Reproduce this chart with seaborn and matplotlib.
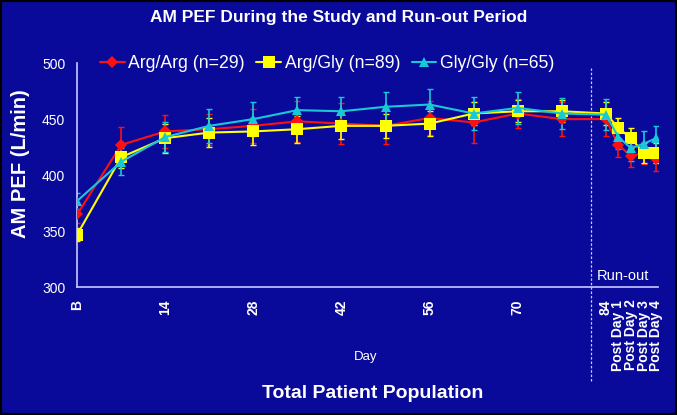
import numpy as np
import pandas as pd
import matplotlib
matplotlib.use("Agg")
import matplotlib.pyplot as plt
import seaborn as sns

# Tage der Messungen (B = Baseline, danach Run-out Tage)
days = [0, 7, 14, 21, 28, 35, 42, 49, 56, 63, 70, 77, 84, 86, 88, 90, 92]
tick_days = [0, 14, 28, 42, 56, 70, 84, 86, 88, 90, 92]
tick_labels = ["B", "14", "28", "42", "56", "70", "84",
               "Post Day 1", "Post Day 2", "Post Day 3", "Post Day 4"]

groups = ["Arg/Arg (n=29)", "Arg/Gly (n=89)", "Gly/Gly (n=65)"]

arg_arg = [365, 427, 439, 441, 444, 448, 446, 444, 451, 447, 455, 450, 450, 427, 417, 420, 414]
arg_gly = [347, 416, 433, 438, 439, 441, 444, 444, 446, 455, 457, 457, 455, 442, 433, 420, 420]
gly_gly = [377, 412, 434, 444, 450, 458, 457, 461, 463, 455, 460, 455, 454, 434, 424, 428, 433]

arg_arg_se = [8, 16, 15, 14, 15, 18, 18, 16, 15, 18, 13, 15, 15, 11, 10, 10, 10]
arg_gly_se = [6, 10, 13, 13, 12, 12, 12, 11, 11, 10, 10, 10, 10, 9, 9, 9, 9]
gly_gly_se = [7, 12, 13, 15, 15, 12, 13, 13, 14, 15, 14, 14, 14, 11, 11, 11, 11]

df = pd.DataFrame({
    "Day": days * 3,
    "PEF": arg_arg + arg_gly + gly_gly,
    "SE": arg_arg_se + arg_gly_se + gly_gly_se,
    "Group": sum([[g] * len(days) for g in groups], []),
})

bg = "#0a0a9a"
farben = {groups[0]: "#ff1010", groups[1]: "#ffff00", groups[2]: "#18c8d8"}
marker = {groups[0]: "D", groups[1]: "s", groups[2]: "^"}
msize = {groups[0]: 6, groups[1]: 8, groups[2]: 7}

sns.set_style("dark")
plt.rcParams["font.family"] = ["Liberation Sans", "DejaVu Sans"]

fig = plt.figure(figsize=(6.77, 4.15), dpi=100, facecolor=bg)
ax = fig.add_axes([0.114, 0.308, 0.858, 0.54])
ax.set_facecolor(bg)

# Fehlerbalken zuerst, dann Linien mit Markern
for g in groups:
    d = df[df["Group"] == g]
    ax.errorbar(d["Day"], d["PEF"], yerr=d["SE"], fmt="none",
                ecolor=farben[g], elinewidth=1.2, capsize=2.5, zorder=2)

sns.lineplot(data=df, x="Day", y="PEF", hue="Group", style="Group",
             palette=farben, markers=marker, dashes=False, linewidth=1.5,
             markeredgewidth=0, ax=ax, zorder=3, legend=False)
for line, g in zip(ax.lines[-3:], groups):
    line.set_markersize(msize[g])

# Legende
handles = [plt.Line2D([], [], color=farben[g], marker=marker[g],
                      markersize=msize[g], markeredgewidth=0, lw=1.5) for g in groups]
ax.legend(handles, groups, loc="upper left", ncol=3, frameon=False,
          bbox_to_anchor=(0.012, 1.105), fontsize=12.7, labelcolor="white",
          handlelength=1.4, handletextpad=0.2, columnspacing=0.65)

ax.set_xlim(0, 92.3)
ax.set_ylim(300, 500)
ax.set_yticks([300, 350, 400, 450, 500])
ax.set_xticks(tick_days)
ax.set_xticklabels(tick_labels, rotation=90, fontweight="bold", fontsize=10)
ax.set_xticks(np.arange(0, 93, 2), minor=True)
ax.tick_params(axis="x", which="both", colors="#c8c8ff", labelcolor="white",
               direction="out", length=5, width=1, pad=4)
ax.tick_params(axis="y", colors="#c8c8ff", labelcolor="white",
               direction="out", length=5, width=1, labelsize=10)
ax.grid(False)
for s in ["top", "right"]:
    ax.spines[s].set_visible(False)
for s in ["left", "bottom"]:
    ax.spines[s].set_visible(True)
    ax.spines[s].set_color("#c8c8ff")
    ax.spines[s].set_linewidth(1.2)

ax.set_xlabel("")
ax.set_ylabel("AM PEF (L/min)", color="white", fontsize=14.5,
              fontweight="bold")
ax.yaxis.set_label_coords(-0.082, 0.55)

# Run-out Trennlinie
ax.axvline(81.6, ymin=-0.42, ymax=0.98, color="#c8c8ff", lw=0.9,
           ls=(0, (2, 1.5)), clip_on=False, zorder=1)
ax.text(82.6, 304, "Run-out", color="white", fontsize=10.5, va="bottom")

fig.text(0.5, 0.957, "AM PEF During the Study and Run-out Period",
         color="white", fontsize=12.5, fontweight="bold", ha="center", va="center")
fig.text(0.54, 0.14, "Day", color="white", fontsize=9.5, ha="center", va="center")
fig.text(0.55, 0.053, "Total Patient Population", color="white",
         fontsize=14, fontweight="bold", ha="center", va="center")

# schwarzer Rahmen
fig.add_artist(plt.Rectangle((0, 0), 1, 1, transform=fig.transFigure,
                             fill=False, edgecolor="black", lw=3))

fig.savefig("out.png", dpi=100, facecolor=bg)
